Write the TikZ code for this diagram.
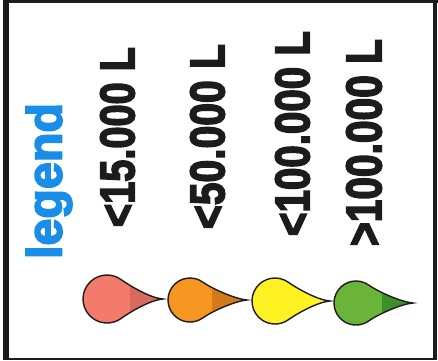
\documentclass[tikz,border=0pt]{standalone}
\usepackage{fontspec}
\usepackage{graphicx}
\newfontfamily\heavyfont{Liberation Sans}[BoldFeatures={FakeBold=3.5}]
\definecolor{frameblack}{HTML}{1C1C1C}
\definecolor{legblue}{HTML}{1A8DE9}
\definecolor{redL}{HTML}{F47A6C}
\definecolor{redD}{HTML}{DA6A5E}
\definecolor{oraL}{HTML}{F6951F}
\definecolor{oraD}{HTML}{D47A16}
\definecolor{yelL}{HTML}{FFF223}
\definecolor{grnL}{HTML}{6BB43A}
\definecolor{grnD}{HTML}{3E8F27}
\tikzset{
  label/.style={rotate=90, inner sep=0pt, text=frameblack},
  outline/.style={draw=frameblack, line width=1.4pt, line join=miter, miter limit=20},
}
% #1 r, #2 L (tip distance)
\newcommand\droppath[2]{(#2,0) .. controls ({#2-0.5*#1},{0.04*#1}) and ({1.065*#1},{0.475*#1}) .. (55:#1)
  arc[start angle=55, end angle=305, radius=#1]
  .. controls ({1.065*#1},{-0.475*#1}) and ({#2-0.5*#1},{-0.04*#1}) .. cycle}
% #1 cx, #2 cy, #3 r, #4 L, #5 light, #6 dark, #7 dark start offset
\newcommand\drawdrop[7]{%
  \begin{scope}[shift={(#1,#2)}]
    \fill[#5] \droppath{#3}{#4};
    \begin{scope}
      \clip \droppath{#3}{#4};
      \fill[#6] (#7,{-#3-2}) rectangle ({#4+2},{#3+2});
    \end{scope}
    \path[outline] \droppath{#3}{#4};
  \end{scope}}
\begin{document}
\begin{tikzpicture}[x=1pt,y=1pt]
\useasboundingbox (0,0) rectangle (438,360);
\fill[white] (0,0) rectangle (438,360);
% frame
\fill[frameblack] (3,0) rectangle (9,360);
\fill[frameblack] (3,357) rectangle (438,360);
\fill[frameblack] (433,0) rectangle (437,360);
\fill[frameblack] (3,0) rectangle (437,2.5);
% legend title
\node[rotate=90, inner sep=0pt, text=legblue] (legend) at (49,179)
  {\resizebox*{156pt}{46pt}{\heavyfont\bfseries legend}};
% labels
\node[label] (l1) at (117.5,223) {\resizebox{180pt}{34pt}{\heavyfont\bfseries <15.000 L}};
\node[label] (l2) at (207.5,223.5) {\resizebox{185pt}{34pt}{\heavyfont\bfseries <50.000 L}};
\node[label] (l3) at (292.5,226.5) {\resizebox{205pt}{34pt}{\heavyfont\bfseries <100.000 L}};
\node[label] (l4) at (364,217.5) {\resizebox{207pt}{35pt}{\heavyfont\bfseries >100.000 L}};
% drops
\drawdrop{107}{61}{24}{56}{redL}{redD}{23}
\drawdrop{190}{60}{22}{57}{oraL}{oraD}{22}
\drawdrop{275}{59}{23}{55}{yelL}{yelL}{60}
\drawdrop{356}{57}{22}{57}{grnL}{grnD}{26}
\end{tikzpicture}
\end{document}
